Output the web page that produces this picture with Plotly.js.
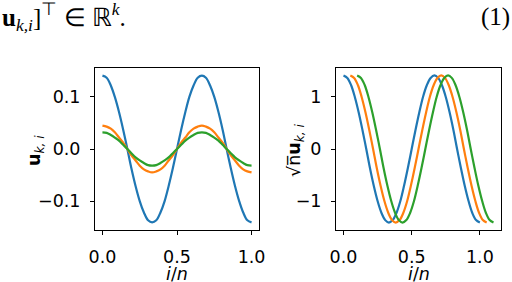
<!DOCTYPE html>
<html>
<head>
<meta charset="utf-8">
<script src="https://cdn.plot.ly/plotly-3.0.1.min.js"></script>
<style>html,body{margin:0;padding:0;background:#fff;}#chart{width:512px;height:282px;}</style>
</head>
<body>
<div id="chart"></div>
<script>
// ---- data ----
var xLeft = [0, 0.028, 0.056, 0.083, 0.111, 0.139, 0.167, 0.194, 0.222, 0.25, 0.278, 0.306, 0.333,
             0.361, 0.389, 0.417, 0.444, 0.472, 0.5, 0.528, 0.556, 0.583, 0.611, 0.639, 0.667,
             0.694, 0.722, 0.75, 0.778, 0.806, 0.833, 0.861, 0.889, 0.917, 0.944, 0.972, 1.0];
var uBlue = [0.141, 0.137, 0.122, 0.100, 0.071, 0.037, 0.000, -0.037, -0.071, -0.100, -0.122, -0.137, -0.141,
             -0.137, -0.122, -0.100, -0.071, -0.037, 0.000, 0.037, 0.071, 0.100, 0.122, 0.137, 0.141,
             0.137, 0.122, 0.100, 0.071, 0.037, 0.000, -0.037, -0.071, -0.100, -0.122, -0.137, -0.141];
var uOrange = [0.045, 0.043, 0.039, 0.032, 0.022, 0.012, 0.000, -0.012, -0.022, -0.032, -0.039, -0.043, -0.045,
               -0.043, -0.039, -0.032, -0.022, -0.012, 0.000, 0.012, 0.022, 0.032, 0.039, 0.043, 0.045,
               0.043, 0.039, 0.032, 0.022, 0.012, 0.000, -0.012, -0.022, -0.032, -0.039, -0.043, -0.045];
var uGreen = [0.032, 0.031, 0.027, 0.022, 0.016, 0.008, 0.000, -0.008, -0.016, -0.022, -0.027, -0.031, -0.032,
              -0.031, -0.027, -0.022, -0.016, -0.008, 0.000, 0.008, 0.016, 0.022, 0.027, 0.031, 0.032,
              0.031, 0.027, 0.022, 0.016, 0.008, 0.000, -0.008, -0.016, -0.022, -0.027, -0.031, -0.032];

var xRightBlue = xLeft;
var xRightOrange = [0.05, 0.078, 0.106, 0.133, 0.161, 0.189, 0.217, 0.244, 0.272, 0.3, 0.328, 0.356, 0.383,
                    0.411, 0.439, 0.467, 0.494, 0.522, 0.55, 0.578, 0.606, 0.633, 0.661, 0.689, 0.717,
                    0.744, 0.772, 0.8, 0.828, 0.856, 0.883, 0.911, 0.939, 0.967, 0.994, 1.022, 1.05];
var xRightGreen = [0.1, 0.128, 0.156, 0.183, 0.211, 0.239, 0.267, 0.294, 0.322, 0.35, 0.378, 0.406, 0.433,
                   0.461, 0.489, 0.517, 0.544, 0.572, 0.6, 0.628, 0.656, 0.683, 0.711, 0.739, 0.767,
                   0.794, 0.822, 0.85, 0.878, 0.906, 0.933, 0.961, 0.989, 1.017, 1.044, 1.072, 1.1];
var sBlue = [1.414, 1.366, 1.225, 1.000, 0.707, 0.366, 0.000, -0.366, -0.707, -1.000, -1.225, -1.366, -1.414,
             -1.366, -1.225, -1.000, -0.707, -0.366, 0.000, 0.366, 0.707, 1.000, 1.225, 1.366, 1.414,
             1.366, 1.225, 1.000, 0.707, 0.366, 0.000, -0.366, -0.707, -1.000, -1.225, -1.366, -1.414];
var sOrange = sBlue.slice();
var sGreen = sBlue.slice();

var colors = ['#1f77b4', '#ff7f0e', '#2ca02c'];
var xTicks = [0, 0.5, 1.0], xTickText = ['0.0', '0.5', '1.0'];
var uTicks = [-0.1, 0, 0.1], uTickText = ['\u22120.1', '0.0', '0.1'];
var sTicks = [-1, 0, 1], sTickText = ['\u22121', '0', '1'];
var xTitle = '<i>i</i>/<i>n</i>';
var yTitleLeft = '<b>u</b><sub><i>k, i</i></sub>';
var yTitleRight = '\u221An\u0305<b>u</b><sub><i>k, i</i></sub>';

function tr(x, y, c, xa, ya) {
  return {x: x, y: y, type: 'scatter', mode: 'lines', xaxis: xa, yaxis: ya,
          line: {color: c, width: 2.2, shape: 'spline', smoothing: 1}, hoverinfo: 'skip'};
}
var data = [
  tr(xLeft, uBlue, colors[0], 'x', 'y'),
  tr(xLeft, uOrange, colors[1], 'x', 'y'),
  tr(xLeft, uGreen, colors[2], 'x', 'y'),
  tr(xRightBlue, sBlue, colors[0], 'x2', 'y2'),
  tr(xRightOrange, sOrange, colors[1], 'x2', 'y2'),
  tr(xRightGreen, sGreen, colors[2], 'x2', 'y2')
];

var FS = 17.5;
var tickFont = {family: 'DejaVu Sans', size: FS, color: '#000'};
var titleFont = {family: 'DejaVu Sans', size: FS, color: '#000'};
function axisCommon() {
  return {showline: true, mirror: true, linecolor: '#000', linewidth: 1, showgrid: false, zeroline: false,
          ticks: 'outside', ticklen: 4, tickwidth: 1, tickcolor: '#000', tickfont: tickFont, automargin: false};
}
var xa = Object.assign(axisCommon(), {domain: [95/512, 259/512], range: [-0.05, 1.05], anchor: 'y',
  tickvals: xTicks, ticktext: xTickText, ticklabelstandoff: 7});
var ya = Object.assign(axisCommon(), {domain: [52/282, 214/282], range: [-0.1556, 0.1556], anchor: 'x',
  tickvals: uTicks, ticktext: uTickText, ticklabelstandoff: 6});
var xa2 = Object.assign(axisCommon(), {domain: [336/512, 501/512], range: [-0.055, 1.155], anchor: 'y2',
  tickvals: xTicks, ticktext: xTickText, ticklabelstandoff: 7});
var ya2 = Object.assign(axisCommon(), {domain: [52/282, 214/282], range: [-1.556, 1.556], anchor: 'x2',
  tickvals: sTicks, ticktext: sTickText, ticklabelstandoff: 6});

function ann(x, y, text, angle) {
  return {xref: 'paper', yref: 'paper', x: x / 512, y: 1 - y / 282, xanchor: 'center', yanchor: 'middle',
          showarrow: false, textangle: angle, text: text, font: titleFont};
}
function xTitleAnn(x) {
  return {xref: 'paper', yref: 'paper', x: x / 512, y: 0, xanchor: 'center', yanchor: 'bottom', yshift: -3,
          borderpad: 0, showarrow: false, text: xTitle, font: titleFont};
}
var layout = {
  width: 512, height: 282, margin: {l: 0, r: 0, t: 0, b: 0},
  paper_bgcolor: '#fff', plot_bgcolor: '#fff', showlegend: false,
  xaxis: xa, yaxis: ya, xaxis2: xa2, yaxis2: ya2,
  annotations: [
    {xref: 'paper', yref: 'paper', x: 0, y: 1 - 17/282, xanchor: 'left', yanchor: 'middle', showarrow: false,
     text: '<b>u</b><sub><i>k,i</i></sub>]<sup>\u22A4</sup> \u2208 \u211D<sup><i>k</i></sup>.',
     font: {family: 'Liberation Serif', size: 25, color: '#000'}},
    {xref: 'paper', yref: 'paper', x: 1, y: 1 - 17/282, xanchor: 'right', yanchor: 'middle', showarrow: false,
     text: '(1)', font: {family: 'Liberation Serif', size: 25, color: '#000'}},
    ann(35, 151, yTitleLeft, -90),
    ann(295, 150, yTitleRight, -90),
    xTitleAnn(177),
    xTitleAnn(418.5)
  ]
};
Plotly.newPlot('chart', data, layout, {staticPlot: true, displayModeBar: false});
</script>
</body>
</html>
